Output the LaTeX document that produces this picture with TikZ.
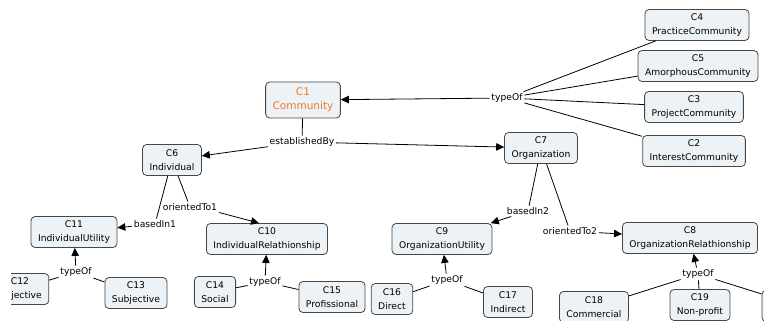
\documentclass[tikz,border=0pt]{standalone}
\usepackage{fontspec}
\setmainfont{DejaVu Sans}
\usetikzlibrary{arrows.meta}
\definecolor{boxfill}{RGB}{236,242,245}
\definecolor{boxline}{RGB}{70,70,70}
\definecolor{rootorange}{RGB}{242,121,37}

\begin{document}
\begin{tikzpicture}[x=1pt, y=-1pt, ->, >={Triangle[length=8pt,width=7.5pt]}, line width=0.8pt]
    \tikzstyle{concept}=[draw=boxline, fill=boxfill, rounded corners=4pt, align=center, inner xsep=7pt, inner ysep=3pt, minimum height=31pt, font=\fontsize{9.2}{14}\selectfont]
    \tikzstyle{link}=[fill=white, inner sep=1.5pt, font=\fontsize{9.2}{11}\selectfont]

    \useasboundingbox (0,0) rectangle (764,321);
    \clip (0,0) rectangle (764,321);

    % concepts
    \node[concept, minimum height=36pt, text=rootorange, font=\fontsize{10.5}{14}\selectfont] at (303, 100) (C1) {C1\\Community};
    \node[concept] at (697, 25)  (C4)  {C4\\PracticeCommunity};
    \node[concept] at (698, 66)  (C5)  {C5\\AmorphousCommunity};
    \node[concept] at (694, 107) (C3)  {C3\\ProjectCommunity};
    \node[concept] at (694, 151) (C2)  {C2\\InterestCommunity};
    \node[concept] at (172, 160) (C6)  {C6\\Individual};
    \node[concept] at (541, 148) (C7)  {C7\\Organization};
    \node[concept] at (74, 232)  (C11) {C11\\IndividualUtility};
    \node[concept] at (267, 239) (C10) {C10\\IndividualRelathionship};
    \node[concept] at (442, 239) (C9)  {C9\\OrganizationUtility};
    \node[concept] at (690, 238) (C8)  {C8\\OrganizationRelathionship};
    \begin{scope}
        \clip (11,0) rectangle (764,321);
        \node[concept] at (20, 289) (C12) {C12\\Objective};
    \end{scope}
    \node[concept] at (136, 293) (C13) {C13\\Subjective};
    \node[concept] at (215, 292) (C14) {C14\\Social};
    \node[concept] at (332, 297) (C15) {C15\\Profissional};
    \node[concept] at (392, 299) (C16) {C16\\Direct};
    \node[concept] at (508, 302) (C17) {C17\\Indirect};
    \node[concept] at (594, 307) (C18) {C18\\Commercial};
    \node[concept] at (700, 305) (C19) {C19\\Non-profit};
    \node[concept, minimum width=76pt] at (800, 306) (C20) {};

    % linking phrases
    \node[link] at (507, 98)  (t0) {typeOf};
    \node[link] at (302, 142) (est) {establishedBy};
    \node[link] at (155, 224) (b1) {basedIn1};
    \node[link] at (190, 207) (o1) {orientedTo1};
    \node[link] at (528, 211) (b2) {basedIn2};
    \node[link] at (570, 231) (o2) {orientedTo2};
    \node[link] at (76, 272)  (t1) {typeOf};
    \node[link] at (265, 282) (t2) {typeOf};
    \node[link] at (447, 280) (t3) {typeOf};
    \node[link] at (698, 274) (t4) {typeOf};

    \path
    (t0) edge (C1)
    (t0) edge[-] (C4)
    (t0) edge[-] (C5)
    (t0) edge[-] (C3)
    (t0) edge[-] (C2)
    (C1) edge[-] (est)
    (est) edge (C6)
    (est) edge (C7)
    (C6) edge[-] (b1)
    (b1) edge (C11)
    (C6) edge[-] (o1)
    (o1.south east) edge ([xshift=-8pt]C10.north)
    (C7) edge[-] (b2)
    (b2) edge (C9)
    (C7) edge[-] (o2)
    (o2) edge (C8)
    (t1) edge (C11)
    (t1) edge[-] (C12)
    (t1) edge[-] (C13)
    (t2) edge (C10)
    (t2) edge[-] (C14)
    (t2) edge[-] (C15)
    (t3) edge (C9)
    (t3) edge[-] (C16)
    (t3) edge[-] (C17)
    (t4) edge (C8)
    (t4) edge[-] (C18)
    (t4) edge[-] (C19)
    (t4) edge[-] (C20);
\end{tikzpicture}
\end{document}
